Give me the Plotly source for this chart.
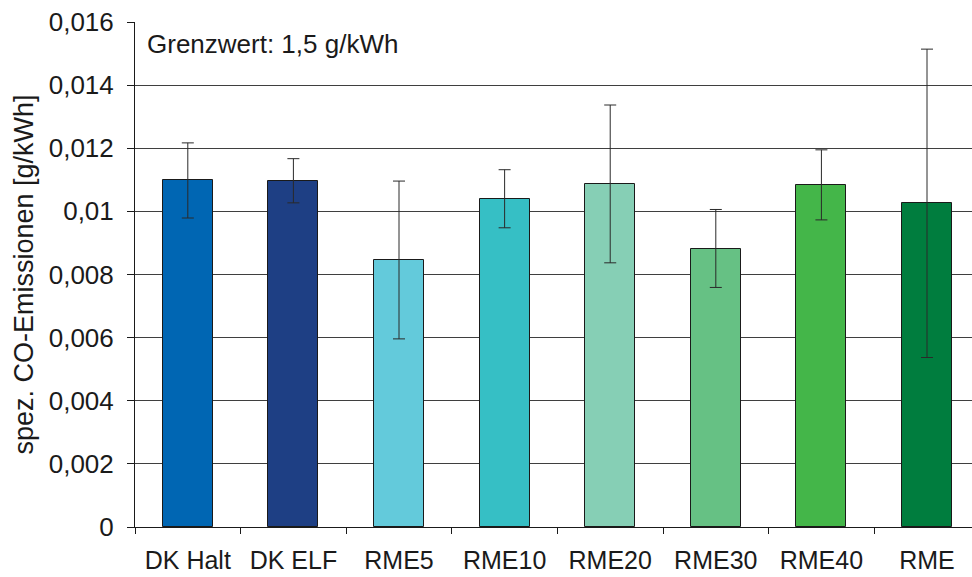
import plotly.graph_objects as go

categories = ["DK Halt", "DK ELF", "RME5", "RME10", "RME20", "RME30", "RME40", "RME"]
values = [0.01099, 0.01097, 0.00846, 0.01040, 0.01087, 0.00881, 0.01085, 0.01026]
err_plus = [0.00118, 0.00070, 0.00250, 0.00092, 0.00250, 0.00125, 0.00110, 0.00488]
err_minus = [0.00120, 0.00070, 0.00250, 0.00092, 0.00250, 0.00122, 0.00112, 0.00489]
colors = ["#0066B3", "#1E3F84", "#63CADB", "#36BFC5", "#86CFB5", "#66C184", "#44B649", "#007D3E"]
y_tickvals = [0, 0.002, 0.004, 0.006, 0.008, 0.01, 0.012, 0.014, 0.016]
y_ticktext = ["0", "0,002", "0,004", "0,006", "0,008", "0,01", "0,012", "0,014", "0,016"]

FONT = "Liberation Sans, Arial, Helvetica, sans-serif"

fig = go.Figure()
fig.add_trace(go.Bar(
    x=categories,
    y=values,
    width=0.473,
    marker=dict(color=colors, line=dict(color="#1a1a1a", width=1)),
    error_y=dict(type="data", symmetric=False, array=err_plus, arrayminus=err_minus,
                 color="#2a2a2a", thickness=1, width=6),
    showlegend=False,
))

fig.add_annotation(
    text="Grenzwert: 1,5 g/kWh",
    xref="paper", yref="paper", x=0.012, y=0.956,
    xanchor="left", yanchor="middle", showarrow=False,
    font=dict(family=FONT, size=26, color="#1a1a1a"),
)

fig.update_layout(
    width=972, height=577,
    margin=dict(l=135, r=0, t=22, b=50, autoexpand=False),
    paper_bgcolor="white", plot_bgcolor="white",
    font=dict(family=FONT, size=26, color="#1a1a1a"),
    bargap=0,
)
fig.update_xaxes(
    range=[-0.5, 7.426],
    automargin=False,
    showline=True, linecolor="#1a1a1a", linewidth=1,
    ticks="outside", tickson="boundaries", ticklen=6, tickcolor="#1a1a1a",
    ticklabelstandoff=11,
    showgrid=False,
    tickfont=dict(size=25),
)
fig.update_yaxes(
    range=[0, 0.016],
    automargin=False,
    tickvals=y_tickvals, ticktext=y_ticktext,
    showline=True, linecolor="#1a1a1a", linewidth=1,
    ticks="outside", ticklen=7, tickcolor="#1a1a1a",
    ticklabelstandoff=8,
    showgrid=True, gridcolor="#3f3f3f", gridwidth=1,
    zeroline=False,
    tickfont=dict(size=26),
    title=dict(text="spez. CO-Emissionen [g/kWh]", font=dict(size=27), standoff=7),
)

fig.write_html(
    "out.html",
    config={"displayModeBar": False},
    post_script="document.body.style.margin='0';document.body.style.overflow='hidden';",
)
